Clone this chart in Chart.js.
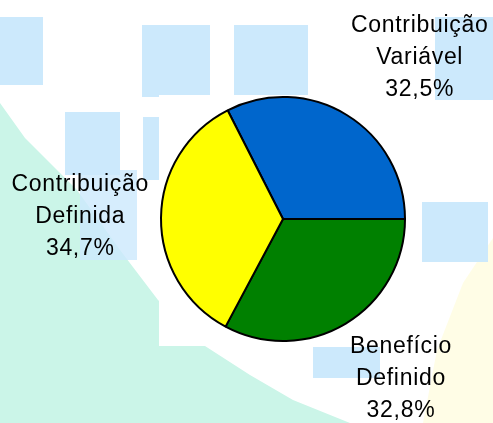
<!DOCTYPE html>
<html>
<head>
<meta charset="utf-8">
<title>Planos por modalidade</title>
<script src="https://cdn.jsdelivr.net/npm/chart.js@4"></script>
<style>
  html, body { margin: 0; padding: 0; background: #fff; }
  #wrap { position: relative; width: 493px; height: 423px; overflow: hidden; background: #fff; }
  .sq { position: absolute; background: #cce9fc; }
  .shape { position: absolute; left: 0; top: 0; width: 493px; height: 423px; }
  #plotbg { position: absolute; left: 159px; top: 95px; width: 251px; height: 251px; background: #fff; }
  canvas { position: absolute; left: 0; top: 0; }
</style>
</head>
<body>

<div id="wrap">
  <!-- decorative background -->
  <div class="shape" style="background:#cbf5e8;clip-path:polygon(0 103px,25px 138px,77px 190px,120px 250px,158px 300px,205px 346px,250px 375px,293px 400px,350px 423px,0 423px)"></div>
  <div class="shape" style="background:#fffde6;clip-path:polygon(493px 238px,463px 283px,437px 350px,423px 423px,493px 423px)"></div>
  <div class="sq" style="left:0;top:17px;width:43px;height:68px"></div>
  <div class="sq" style="left:142px;top:25px;width:68px;height:72px"></div>
  <div class="sq" style="left:234px;top:25px;width:74px;height:70px"></div>
  <div class="sq" style="left:435px;top:17px;width:58px;height:83px"></div>
  <div class="sq" style="left:65px;top:112px;width:55px;height:63px"></div>
  <div class="sq" style="left:143px;top:117px;width:17px;height:63px"></div>
  <div class="sq" style="left:80px;top:170px;width:57px;height:90px;opacity:0.8"></div>
  <div class="sq" style="left:422px;top:202px;width:66px;height:60px"></div>
  <div class="sq" style="left:313px;top:347px;width:67px;height:31px"></div>
  <div id="plotbg"></div>
  <canvas id="myChart" width="493" height="423"></canvas>
</div>

<script>
    // Data
    const categories = ["Contribuição Variável", "Benefício Definido", "Contribuição Definida"];
    const labelLines = [["Contribuição", "Variável"], ["Benefício", "Definido"], ["Contribuição", "Definida"]];
    const shares = [32.5, 32.8, 34.7];
    const sliceColors = ["#0066cc", "#008000", "#ffff00"];

    // first slice ends at 3 o'clock
    const startRotation = 90 - shares[0] / 100 * 360;

    // draws the data labels outside each slice (Excel "outside end" style)
    const outsideLabels = {
        id: "outsideLabels",
        afterDraw(chart) {
            const ctx = chart.ctx;
            const arcs = chart.getDatasetMeta(0).data;
            ctx.save();
            ctx.font = "23px 'Liberation Sans', Arial, sans-serif";
            ctx.letterSpacing = "0.7px";
            ctx.fillStyle = "#000";
            ctx.textAlign = "center";
            ctx.textBaseline = "middle";
            const lineH = 32;
            arcs.forEach(function(arc, i) {
                const mid = (arc.startAngle + arc.endAngle) / 2;
                const lines = labelLines[i].concat([shares[i].toFixed(1).replace(".", ",") + "%"]);
                let w = 0;
                lines.forEach(function(l) { w = Math.max(w, ctx.measureText(l).width); });
                const h = lines.length * lineH;
                const r = arc.outerRadius + 8;
                const ax = arc.x + Math.cos(mid) * r;
                const ay = arc.y + Math.sin(mid) * r;
                const kx = Math.max(-1, Math.min(1, Math.cos(mid) * 2));
                const ky = Math.max(-1, Math.min(1, Math.sin(mid) * 2));
                const cx = ax + kx * (w / 2 + (Math.abs(ky) < 0.5 ? 4 : 0));
                const cy = ay + ky * h / 2 - (ky < -0.5 ? 3 : 0);
                lines.forEach(function(l, j) {
                    ctx.fillText(l, cx, cy + (j - (lines.length - 1) / 2) * lineH);
                });
            });
            ctx.restore();
        }
    };

    new Chart("myChart", {
        type: "pie",
        data: {
            labels: categories,
            datasets: [{
                data: shares,
                backgroundColor: sliceColors,
                borderColor: "#000",
                borderWidth: 2,
                hoverOffset: 0
            }]
        },
        options: {
            responsive: false,
            animation: false,
            rotation: startRotation,
            layout: {
                padding: { left: 160, right: 87, top: 96, bottom: 81 }
            },
            plugins: {
                legend: { display: false },
                tooltip: { enabled: false }
            }
        },
        plugins: [outsideLabels]
    });
</script>

</body>
</html>
